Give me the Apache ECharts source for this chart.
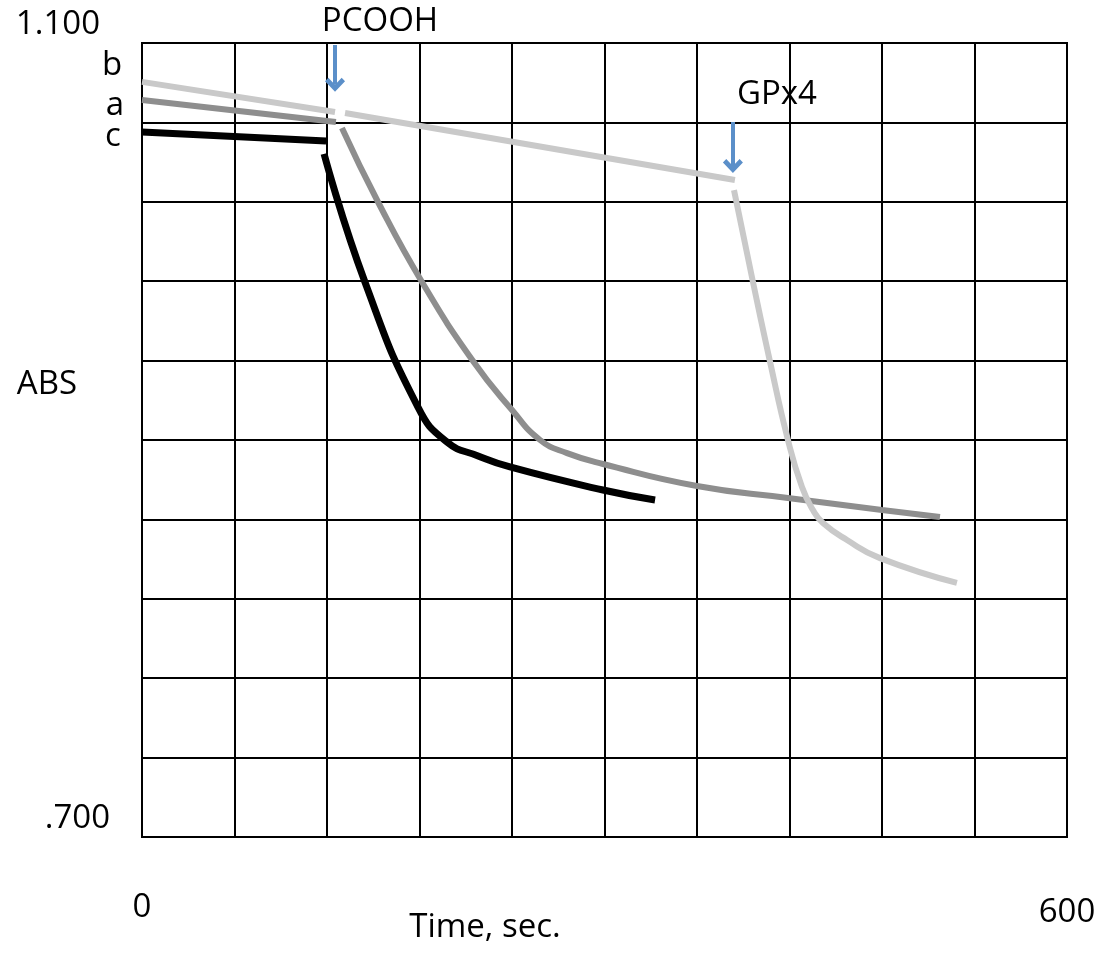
<!DOCTYPE html>
<html>
<head>
<meta charset="utf-8">
<script src="https://cdn.jsdelivr.net/npm/echarts@6/dist/echarts.min.js"></script>
<style>
  html, body { margin: 0; padding: 0; background: #fff; }
  #chart { width: 1104px; height: 962px; }
</style>
</head>
<body>
<div id="chart"></div>
<script>
// tick labels shown on the axes (only the ends are labelled)
var yTickLabels = ['.700', '1.100'];
var xTickLabels = ['0', '600'];

// curves as [time, abs]; null = break in the trace
var seriesC = [
    [0, 1.0552], [119.4, 1.0506], null,
    [118.1, 1.0441], [144.6, 0.9796], [179.0, 0.9166],
    [197.8, 0.8990], [218.0, 0.8920], [238.7, 0.8864], [299.0, 0.8748], [332.8, 0.8698]
];
var seriesA = [
    [0, 1.0713], [125.8, 1.0602], null,
    [129.7, 1.0572], [153.1, 1.0199], [181.6, 0.9796], [214.7, 0.9398], [240.0, 0.9151],
    [258.2, 0.9000], [275.7, 0.8934], [299.0, 0.8879], [360.0, 0.8768], [419.0, 0.8708],
    [480.0, 0.8647], [517.6, 0.8612]
];
var seriesB = [
    [0, 1.0804], [125.2, 1.0652], null,
    [131.7, 1.0647], [384.6, 1.0310], null,
    [384.0, 1.0259], [396.3, 0.9796], [407.4, 0.9393], [419.0, 0.9000], [428.1, 0.8763],
    [435.2, 0.8647], [441.7, 0.8582], [457.3, 0.8496], [478.7, 0.8405], [528.6, 0.8280]
];

// additions marked by arrows: [name, time, arrow top, arrow tip]
var additions = [
    ['PCOOH', 125.2, 1.0990, 1.0790],
    ['GPx4', 383.3, 1.0602, 1.0380]
];

var chart = echarts.init(document.getElementById('chart'));
var font = '"Open Sans", sans-serif';
var fs = 33;
var chevron = 'path://M0,9 L9,0 L18,9 L15,12 L9,6 L3,12 Z';

function curve(name, data, color, width) {
    return {
        name: name,
        type: 'line',
        data: data,
        showSymbol: false,
        connectNulls: false,
        smooth: 0.5,
        lineStyle: { color: color, width: width, cap: 'butt' },
        itemStyle: { color: color },
        silent: true
    };
}

var arrowSeries = {
    name: 'arrows',
    type: 'line',
    data: [],
    markLine: {
        silent: true,
        symbol: ['none', chevron],
        symbolSize: [20, 14],
        label: { show: false },
        lineStyle: { color: '#5b8fc9', width: 4, type: 'solid' },
        data: additions.map(function (a) {
            return [{ coord: [a[1], a[2]] }, { coord: [a[1], a[3]] }];
        })
    }
};

function txt(text, x, y) {
    return {
        type: 'text',
        x: x, y: y,
        style: {
            text: text,
            font: fs + 'px ' + font,
            fill: '#000',
            align: 'center',
            verticalAlign: 'middle'
        }
    };
}

option = {
    animation: false,
    backgroundColor: '#fff',
    grid: {
        left: 142, top: 43, width: 925, height: 794,
        show: true, borderColor: '#000', borderWidth: 2
    },
    xAxis: {
        type: 'value',
        min: 0, max: 600, interval: 60,
        axisLine: { show: false },
        axisTick: { show: false },
        splitLine: { show: true, lineStyle: { color: '#000', width: 2 } },
        axisLabel: {
            margin: 52,
            fontFamily: font, fontSize: fs, color: '#000', lineHeight: 38,
            formatter: function (v) {
                if (v === 0) return '{lo|' + xTickLabels[0] + '}';
                if (v === 600) return '{hi|' + xTickLabels[1] + '}';
                return '';
            },
            rich: {
                lo: { fontFamily: font, fontSize: fs, lineHeight: 38, color: '#000' },
                hi: { fontFamily: font, fontSize: fs, lineHeight: 38, color: '#000', padding: [9, 0, 0, 0] }
            }
        }
    },
    yAxis: {
        type: 'value',
        min: 0.7, max: 1.1, interval: 0.04,
        axisLine: { show: false },
        axisTick: { show: false },
        splitLine: { show: true, lineStyle: { color: '#000', width: 2 } },
        axisLabel: {
            margin: 32,
            verticalAlign: 'bottom',
            fontFamily: font, fontSize: fs, color: '#000', lineHeight: 36,
            formatter: function (v) {
                if (Math.abs(v - 0.7) < 1e-6) return '{lo|' + yTickLabels[0] + '}';
                if (Math.abs(v - 1.1) < 1e-6) return '{hi|' + yTickLabels[1] + '}';
                return '';
            },
            rich: {
                lo: { fontFamily: font, fontSize: fs, lineHeight: 36, color: '#000' },
                hi: { fontFamily: font, fontSize: fs, lineHeight: 36, color: '#000', padding: [0, 10, 0, 0] }
            }
        }
    },
    graphic: [
        txt('PCOOH', 380, 22),
        txt('GPx4', 777, 95),
        txt('ABS', 47, 385),
        txt('Time, sec.', 485, 928),
        txt('b', 112, 66),
        txt('a', 115, 106),
        txt('c', 113, 137)
    ],
    series: [
        curve('c', seriesC, '#000000', 7),
        curve('a', seriesA, '#8e8e8e', 6),
        curve('b', seriesB, '#c9c9c9', 6),
        arrowSeries
    ]
};

if (option && typeof option === "object") {
    chart.setOption(option, true);
};
</script>
</body>
</html>
